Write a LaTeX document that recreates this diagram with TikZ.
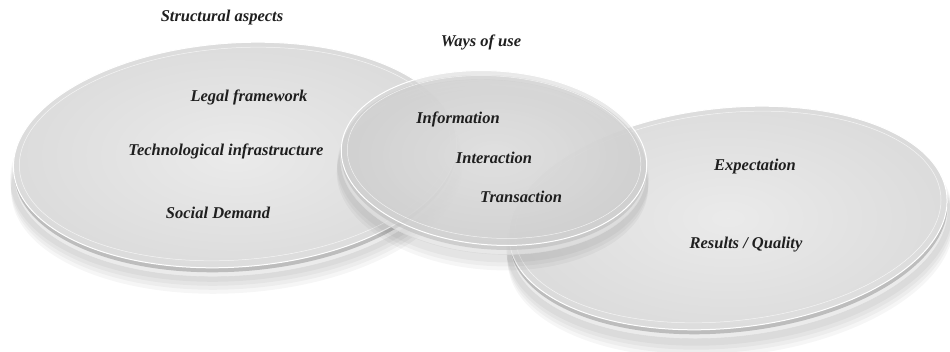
\documentclass[tikz,border=0pt]{standalone}
\usepackage{fontspec}
\setmainfont{Liberation Serif}
\begin{document}
\begin{tikzpicture}[x=1pt,y=1pt,
  lbl/.style={font=\fontsize{16.5}{19}\selectfont\bfseries\itshape, text=black!88, inner sep=0pt},
  shadowL/.style={fill=black, fill opacity=0.035, draw=none},
  rimlow/.style={fill=gray!16, draw=gray!30, line width=0.4pt},
  rimdark/.style={fill=gray!52, draw=none},
  topL/.style={inner color=gray!16, outer color=gray!28, draw=white, line width=1pt}
]
\useasboundingbox (0,-352) rectangle (950,0);
\fill[white] (0,-352) rectangle (950,0);

% left disc
\begin{scope}[shift={(235,-155)}, rotate=4]
  \foreach \s in {24,20,16,12} {\fill[shadowL] (0,-\s) ellipse (226 and 114);}
  \path[rimlow] (0,-9) ellipse (222 and 112);
  \path[rimdark] (0,-4.5) ellipse (222 and 112);
  \path[topL] (0,0) ellipse (222 and 112);
  \draw[white, line width=0.5pt, opacity=0.7] (0,1) ellipse (216 and 106);
\end{scope}

% right disc
\begin{scope}[shift={(728,-218)}, rotate=6]
  \foreach \s in {24,20,16,12} {\fill[shadowL] (0,-\s) ellipse (224 and 114);}
  \path[rimlow] (0,-9) ellipse (220 and 110);
  \path[rimdark] (0,-4.5) ellipse (220 and 110);
  \path[topL] (0,0) ellipse (220 and 110);
  \draw[white, line width=0.5pt, opacity=0.7] (0,1) ellipse (214 and 104);
\end{scope}

% middle disc (translucent)
\begin{scope}[shift={(494,-158)}, rotate=-4]
  \foreach \s in {22,18,14} {\fill[shadowL] (0,-\s) ellipse (156 and 90);}
  \path[rimlow, fill opacity=0.6] (0,-9) ellipse (153 and 87);
  \path[rimdark, fill opacity=0.6] (0,-4.5) ellipse (153 and 87);
  \path[inner color=gray!12, outer color=gray!32, fill opacity=0.55, draw=white, line width=1pt] (0,0) ellipse (153 and 87);
  \draw[white, line width=0.5pt, opacity=0.7] (0,1) ellipse (147 and 81);
\end{scope}

% labels
\node[lbl] (sa) at (222,-18) {Structural aspects};
\node[lbl] (wu) at (481,-42) {Ways of use};
\node[lbl] (lf) at (249,-97) {Legal framework};
\node[lbl] (ti) at (226,-151) {Technological infrastructure};
\node[lbl] (sd) at (218,-213) {Social Demand};
\node[lbl] (inf) at (458,-119) {Information};
\node[lbl] (int) at (494,-158) {Interaction};
\node[lbl] (tra) at (521,-197) {Transaction};
\node[lbl] (exp) at (755,-167) {Expectation};
\node[lbl] (rq) at (746,-245) {Results / Quality};
\end{tikzpicture}
\end{document}
